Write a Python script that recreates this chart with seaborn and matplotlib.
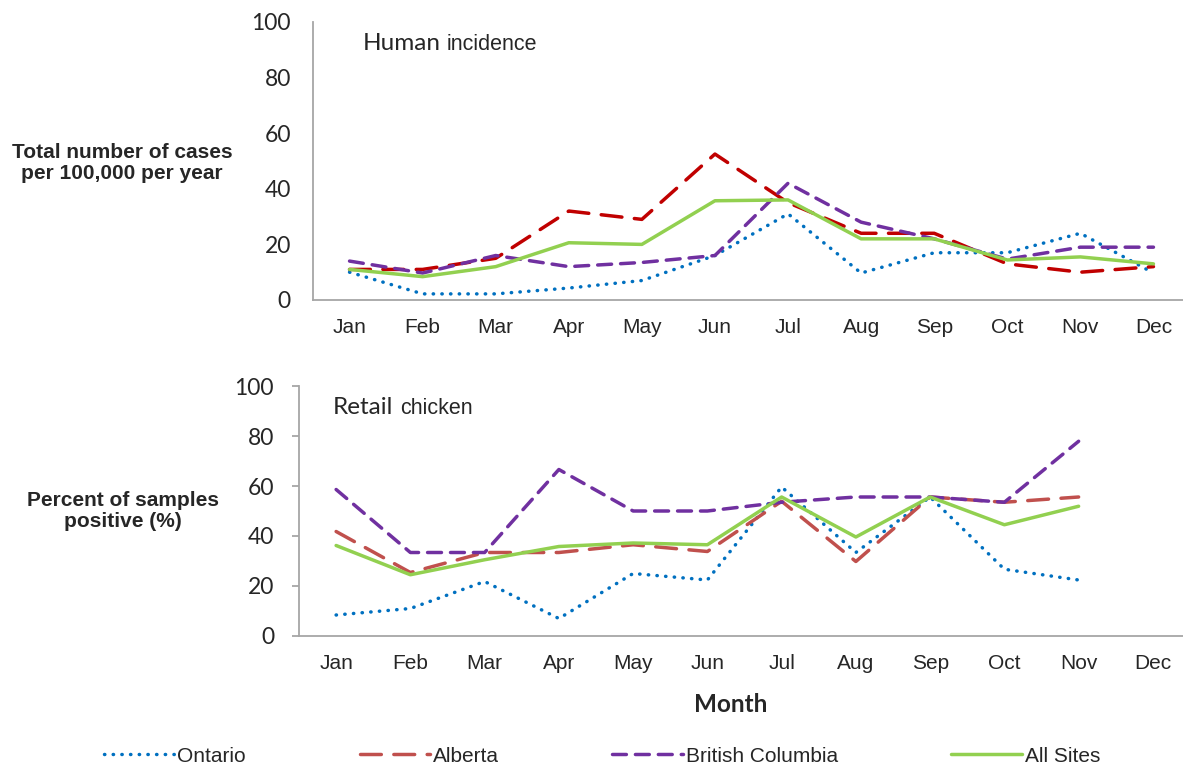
import matplotlib
matplotlib.use('Agg')
import matplotlib.pyplot as plt
from matplotlib.lines import Line2D
import numpy as np
import pandas as pd
import seaborn as sns

months = ['Jan', 'Feb', 'Mar', 'Apr', 'May', 'Jun', 'Jul', 'Aug', 'Sep', 'Oct', 'Nov', 'Dec']
sites = ['Ontario', 'Alberta', 'British Columbia', 'All Sites']

# human incidence, cases per 100,000 per year
human_ontario = [10, 2.2, 2.2, 4.3, 7, 16, 31, 9.7, 17, 17, 24, 9.7]
human_alberta = [11, 11, 15, 32, 29, 52.5, 35, 24, 24, 13, 10, 12]
human_bc = [14, 9.7, 16, 12, 13.5, 16, 42, 28, 22, 14.7, 19, 19]
human_all = [11, 8.4, 12, 20.6, 20, 35.7, 36, 22, 22, 14.4, 15.5, 13]

# retail chicken, percent of samples positive
chicken_ontario = [8.4, 11, 21.8, 7, 25, 22.4, 59.6, 33.4, 55.6, 26.7, 22.4, np.nan]
chicken_alberta = [41.8, 25.4, 33.4, 33.4, 36.5, 33.8, 53.9, 29.8, 55.6, 53.5, 55.6, np.nan]
chicken_bc = [58.6, 33.4, 33.4, 66.6, 50, 50, 53.5, 55.6, 55.6, 53.5, 77.9, np.nan]
chicken_all = [36.2, 24.5, 30.5, 35.8, 37.2, 36.5, 55.6, 39.6, 55.6, 44.5, 51.9, np.nan]


def long_form(series):
    rows = []
    for site, vals in zip(sites, series):
        for i, v in enumerate(vals):
            rows.append({'month': i, 'site': site, 'value': v})
    return pd.DataFrame(rows).dropna()


df_h = long_form([human_ontario, human_alberta, human_bc, human_all])
df_c = long_form([chicken_ontario, chicken_alberta, chicken_bc, chicken_all])

sns.set_style('white')
plt.rcParams['font.family'] = ['Liberation Sans', 'DejaVu Sans']

dashes = {'Ontario': (0.1, 2.4), 'Alberta': (6, 3.6), 'British Columbia': (4, 2.6), 'All Sites': ''}
pal_top = {'Ontario': '#0070C0', 'Alberta': '#C00000', 'British Columbia': '#7030A0', 'All Sites': '#92D050'}
pal_bot = {'Ontario': '#0070C0', 'Alberta': '#C0504D', 'British Columbia': '#7030A0', 'All Sites': '#92D050'}

fig = plt.figure(figsize=(11.83, 7.69), dpi=100)
ax1 = fig.add_axes([313 / 1183, 1 - 300 / 769, 877 / 1183, 278 / 769])
ax2 = fig.add_axes([299 / 1183, 1 - 636 / 769, 891 / 1183, 250 / 769])

for ax, df, pal in [(ax1, df_h, pal_top), (ax2, df_c, pal_bot)]:
    sns.lineplot(data=df, x='month', y='value', hue='site', style='site',
                 hue_order=sites, style_order=sites, palette=pal, dashes=dashes,
                 linewidth=2.5, dash_capstyle='round', legend=False, ax=ax)
    ax.set_xlim(-0.5, 11.5)
    ax.set_ylim(0, 100)
    ax.set_yticks([0, 20, 40, 60, 80, 100])
    ax.set_xticks(range(12))
    ax.set_xticklabels(months, fontsize=15)
    ax.set_xlabel('')
    ax.set_ylabel('')
    for lbl in ax.get_yticklabels():
        lbl.set_fontfamily('Lato')
        lbl.set_fontsize(16.5)
    for s in ['top', 'right']:
        ax.spines[s].set_visible(False)
    for s in ['left', 'bottom']:
        ax.spines[s].set_color('#A6A6A6')
        ax.spines[s].set_linewidth(1.3)

ax1.tick_params(axis='both', length=0)
ax1.tick_params(axis='y', pad=16)
ax1.tick_params(axis='x', pad=13)

ax2.set_xticks(np.arange(-0.5, 12, 1), minor=True)
ax2.tick_params(axis='x', which='major', length=0, pad=13)
ax2.tick_params(axis='x', which='minor', length=5, color='#A6A6A6', width=1.3, direction='out')
ax2.tick_params(axis='y', length=5, color='#A6A6A6', width=1.3, direction='out', left=True, pad=13)

# panel titles
fig.text(363 / 1183, 1 - 43 / 769, 'Human', fontsize=17.5, family='Lato', va='center')
fig.text(447 / 1183, 1 - 44 / 769, 'incidence', fontsize=15.5, va='center')
fig.text(333 / 1183, 1 - 407 / 769, 'Retail', fontsize=17.5, family='Lato', va='center')
fig.text(400 / 1183, 1 - 408 / 769, 'chicken', fontsize=15.5, va='center')

# axis labels
fig.text(122 / 1183, 1 - 163 / 769, 'Total number of cases\nper 100,000 per year',
         fontsize=15, fontweight='bold', ha='center', va='center', linespacing=1.1)
fig.text(123 / 1183, 1 - 511 / 769, 'Percent of samples\npositive (%)',
         fontsize=15, fontweight='bold', ha='center', va='center', linespacing=1.1)
fig.text(731 / 1183, 1 - 705 / 769, 'Month', fontsize=17.5, fontweight='bold',
         family='Lato', ha='center', va='center')

handles = [Line2D([], [], color=pal_bot[s], linewidth=2.5, dash_capstyle='round',
                  dashes=dashes[s]) for s in sites[:3]]
handles.append(Line2D([], [], color=pal_bot['All Sites'], linewidth=2.5))
fig.legend(handles, sites, loc='center left', bbox_to_anchor=(104 / 1183, 1 - 756 / 769),
           ncol=4, frameon=False, handlelength=3.37, handletextpad=0.15,
           columnspacing=5.45, borderaxespad=0, borderpad=0,
           prop={'family': ['Liberation Sans Narrow', 'Liberation Sans'], 'size': 15})

fig.savefig('out.png', dpi=100)
